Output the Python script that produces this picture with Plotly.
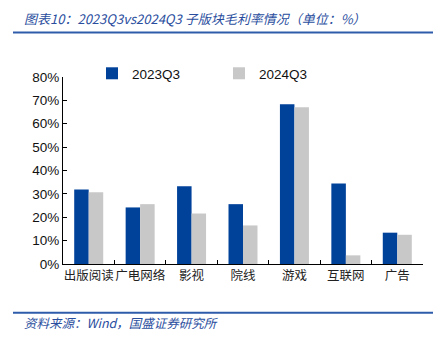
import plotly.graph_objects as go

categories = ["出版阅读", "广电网络", "影视", "院线", "游戏", "互联网", "广告"]
s2023 = [31.9, 24.2, 33.3, 25.6, 68.3, 34.4, 13.4]
s2024 = [30.7, 25.6, 21.6, 16.5, 67.1, 3.7, 12.5]
series_names = ["2023Q3", "2024Q3"]
yticks = [0, 10, 20, 30, 40, 50, 60, 70, 80]
ytick_labels = [f"{v}%" for v in yticks]
title_text = "图表10：2023Q3vs2024Q3 子版块毛利率情况（单位：%）"
source_text = "资料来源：Wind，国盛证券研究所"

BLUE = "#00419A"
GRAY = "#C8C8C8"
TXT_BLUE = "#2A4E9E"

L, R, T, B = 63, 17, 76.5, 79
W, H = 440, 343
pw = W - L - R
ph = H - T - B

def px(x):
    return (x - L) / pw

def py(y):
    return (H - B - y) / ph

fig = go.Figure()
fig.add_trace(go.Bar(x=categories, y=s2023, name=series_names[0], legend="legend",
                     marker=dict(color=BLUE, line=dict(width=0))))
fig.add_trace(go.Bar(x=categories, y=s2024, name=series_names[1], legend="legend2",
                     marker=dict(color=GRAY, line=dict(width=0))))

leg_font = dict(size=13.5, family="Liberation Sans, Arial, sans-serif", color="#111")
leg_common = dict(orientation="h", xanchor="left", yanchor="middle", font=leg_font,
                  itemwidth=30, bgcolor="rgba(0,0,0,0)")

fig.update_layout(
    width=W, height=H,
    margin=dict(l=L, r=R, t=T, b=B),
    paper_bgcolor="white", plot_bgcolor="white",
    barmode="group", bargap=0.436, bargroupgap=0,
    font=dict(family="Liberation Sans, Arial, sans-serif", color="#111"),
    showlegend=True,
    legend=dict(x=px(92), y=py(73), **leg_common),
    legend2=dict(x=px(219), y=py(73), **leg_common),
    xaxis=dict(
        type="category", showline=True, linecolor="black", linewidth=1.2,
        ticks="inside", ticklen=4, tickcolor="black", tickson="boundaries",
        tickangle=0,
        tickfont=dict(family="Noto Sans CJK SC", size=12.5, color="#222"),
        showgrid=False, zeroline=False, fixedrange=True,
    ),
    yaxis=dict(
        range=[0, 80], tickvals=yticks, ticktext=ytick_labels,
        showline=True, linecolor="black", linewidth=1.2,
        ticks="inside", ticklen=4, tickcolor="black",
        tickfont=dict(family="Liberation Sans, Arial, sans-serif", size=13.5, color="#111"),
        showgrid=False, zeroline=False, fixedrange=True,
    ),
    shapes=[
        dict(type="line", xref="paper", yref="paper", x0=px(13), x1=px(433), y0=py(32), y1=py(32),
             line=dict(color="#2E5CAA", width=2)),
        dict(type="line", xref="paper", yref="paper", x0=px(13), x1=px(433), y0=py(313), y1=py(313),
             line=dict(color="#2E5CAA", width=2)),
    ],
    annotations=[
        dict(text="<i>" + title_text + "</i>", xref="paper", yref="paper", x=px(22), y=py(18),
             xanchor="left", yanchor="middle", showarrow=False,
             font=dict(family="Noto Sans CJK SC", size=13, color=TXT_BLUE)),
        dict(text="<i>" + source_text + "</i>", xref="paper", yref="paper", x=px(22), y=py(323),
             xanchor="left", yanchor="middle", showarrow=False,
             font=dict(family="Noto Sans CJK SC", size=12.5, color=TXT_BLUE)),
    ],
)

fig.write_html("out.html", config={"displayModeBar": False})
